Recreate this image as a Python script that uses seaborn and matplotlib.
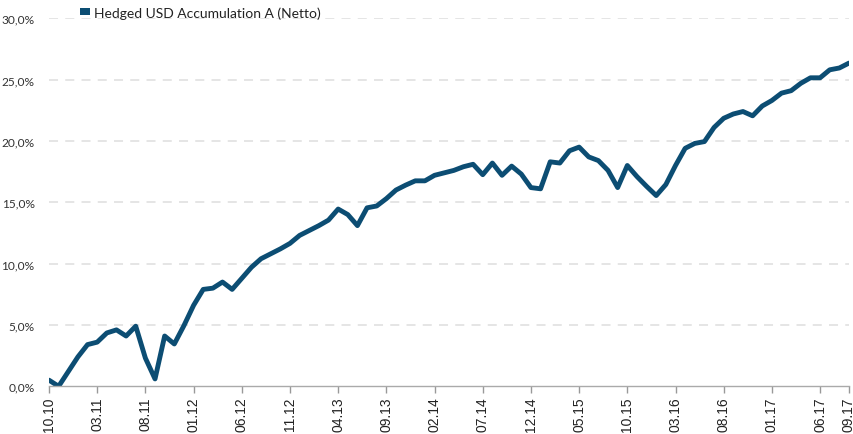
import matplotlib
matplotlib.use("Agg")
import matplotlib.pyplot as plt
from matplotlib.patches import Patch
import seaborn as sns
import pandas as pd
import numpy as np

series_name = "Hedged USD Accumulation A (Netto)"

months = list(pd.date_range("2010-10-01", "2017-09-01", freq="MS").strftime("%m.%y"))

values = [
    0.5, 0.0, 1.2, 2.4, 3.4, 3.6, 4.35, 4.6, 4.1, 4.9,
    2.3, 0.6, 4.1, 3.45, 4.95, 6.6, 7.9, 8.0, 8.5, 7.9,
    8.8, 9.7, 10.4, 10.8, 11.2, 11.65, 12.3, 12.7, 13.1, 13.55,
    14.45, 14.0, 13.1, 14.55, 14.7, 15.3, 16.0, 16.4, 16.75, 16.75,
    17.2, 17.4, 17.6, 17.9, 18.1, 17.25, 18.2, 17.2, 17.95, 17.3,
    16.2, 16.1, 18.3, 18.2, 19.2, 19.5, 18.7, 18.4, 17.6, 16.2,
    18.0, 17.1, 16.3, 15.55, 16.45, 18.0, 19.4, 19.8, 19.95, 21.1,
    21.85, 22.2, 22.4, 22.05, 22.85, 23.3, 23.9, 24.1, 24.7, 25.15,
    25.15, 25.8, 25.95, 26.35,
]

tick_labels = ["10.10", "03.11", "08.11", "01.12", "06.12", "11.12", "04.13",
               "09.13", "02.14", "07.14", "12.14", "05.15", "10.15", "03.16",
               "08.16", "01.17", "06.17", "09.17"]
y_ticks = [0, 5, 10, 15, 20, 25, 30]

line_color = "#0c4d73"

df = pd.DataFrame({"idx": np.arange(len(values)), "month": months, "value": values})

sns.set_theme(style="white")
plt.rcParams["font.family"] = ["Lato", "DejaVu Sans"]

fig = plt.figure(figsize=(8.54, 4.35), dpi=100)
ax = fig.add_axes([49 / 854, 1 - 387.3 / 435, 800 / 854, 368 / 435])

sns.lineplot(data=df, x="idx", y="value", ax=ax, color=line_color,
             linewidth=3.5, legend=False)

ax.set_xlim(0, len(values) - 1)
ax.set_ylim(0, 30)
ax.set_xlabel("")
ax.set_ylabel("")

tick_pos = [months.index(t) for t in tick_labels]
ax.set_xticks(tick_pos)
ax.set_xticklabels(tick_labels, rotation=90, fontsize=10,
                   family=["Liberation Sans"], color="#222222")
ax.set_yticks(y_ticks)
ax.set_yticklabels([f"{v:.1f}%".replace(".", ",") for v in y_ticks],
                   fontsize=8.6, color="#333333")

ax.tick_params(axis="x", bottom=True, length=5, width=1, color="#999999", pad=2)
ax.tick_params(axis="y", left=False, pad=4.3)

for s in ["top", "right", "left"]:
    ax.spines[s].set_visible(False)
ax.spines["bottom"].set_color("#aaaaaa")
ax.spines["bottom"].set_linewidth(1)

for v in y_ticks[1:]:
    ax.axhline(v, color="#e3e3e3", linewidth=1.3, linestyle=(0, (5, 4)), zorder=0)

handle = Patch(facecolor=line_color, edgecolor="none")
fig.legend([handle], [series_name], loc="center left",
           bbox_to_anchor=(80 / 854, 1 - 13.5 / 435), frameon=False,
           fontsize=10, handletextpad=0.3, borderaxespad=0, borderpad=0,
           handlelength=0.72, handleheight=0.43, labelcolor="#222222")

fig.savefig("out.png", dpi=100)
